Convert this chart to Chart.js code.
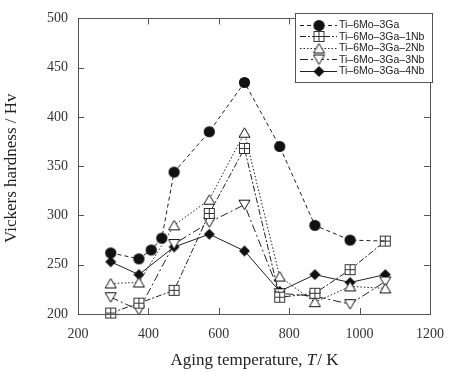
<!DOCTYPE html>
<html>
<head>
<meta charset="utf-8">
<script src="https://cdn.jsdelivr.net/npm/chart.js@4.4.1/dist/chart.umd.min.js"></script>
<style>
html,body{margin:0;padding:0;background:#fff;}
#wrap{width:456px;height:372px;}
</style>
</head>
<body>
<div id="wrap"><canvas id="c" width="456" height="372"></canvas></div>
<script>
// ---- data ----
const seriesNames = ['Ti–6Mo–3Ga','Ti–6Mo–3Ga–1Nb','Ti–6Mo–3Ga–2Nb','Ti–6Mo–3Ga–3Nb','Ti–6Mo–3Ga–4Nb'];
const temps3Ga = [293, 373, 408, 438, 473, 573, 673, 773, 873, 973, 1073];
const hv3Ga    = [262, 256, 265, 277, 344, 385, 435, 370, 290, 275, 274];
const tempsNb  = [293, 373, 473, 573, 673, 773, 873, 973, 1073];
const hv1Nb    = [201, 211, 224, 302, 368, 217, 221, 245, 274];
const hv2Nb    = [231, 232, 290, 316, 384, 238, 212, 228, 226];
const hv3Nb    = [217, 204, 271, 293, 311, 221, 218, 210, 233];
const hv4Nb    = [253, 240, 268, 281, 264, 223, 240, 232, 240];
const xTicks = [200, 400, 600, 800, 1000, 1200];
const yTicks = [200, 250, 300, 350, 400, 450, 500];

function pts(xs, ys){ return xs.map((x,i)=>({x:x, y:ys[i]})); }

// ---- marker images ----
const INK = '#222';
function mk(w,h,fn){ const c=document.createElement('canvas'); c.width=w; c.height=h; const g=c.getContext('2d'); fn(g); return c; }
const mCircle = mk(13,13,g=>{ g.fillStyle='#111'; g.beginPath(); g.arc(6.5,6.5,5.6,0,Math.PI*2); g.fill(); });
const mSquare = mk(13,13,g=>{ g.fillStyle='#fff'; g.strokeStyle='#333'; g.lineWidth=1; g.fillRect(1.5,1.5,10,10); g.strokeRect(1.5,1.5,10,10);
  g.beginPath(); g.moveTo(6.5,1.5); g.lineTo(6.5,11.5); g.moveTo(1.5,6.5); g.lineTo(11.5,6.5); g.stroke(); });
const mTriUp = mk(13,12,g=>{ g.fillStyle='#fff'; g.strokeStyle='#111'; g.lineWidth=1; g.beginPath(); g.moveTo(6.5,1); g.lineTo(12,10.5); g.lineTo(1,10.5); g.closePath(); g.fill(); g.stroke(); });
const mTriDn = mk(13,12,g=>{ g.fillStyle='#fff'; g.strokeStyle='#111'; g.lineWidth=1; g.beginPath(); g.moveTo(6.5,11); g.lineTo(12,1.5); g.lineTo(1,1.5); g.closePath(); g.fill(); g.stroke(); });
const mDiam = mk(13,13,g=>{ g.fillStyle='#111'; g.beginPath(); g.moveTo(6.5,1); g.lineTo(12,6.5); g.lineTo(6.5,12); g.lineTo(1,6.5); g.closePath(); g.fill(); });

const dashes = [[4,3],[6,2,2,2],[1.5,2],[8,3,2,3],[]];
const markers = [mCircle, mSquare, mTriUp, mTriDn, mDiam];

function ds(i, data, radii){
  return { label: seriesNames[i], data: data, borderColor: INK, borderWidth: 1, borderDash: dashes[i],
    pointStyle: markers[i], pointRadius: radii || 6, pointHoverRadius: radii || 6, fill:false, tension:0, clip:false, showLine:true };
}

const PL = 78, PR = 440, PT = 7.5, PB = 314;

const frame = {
  id:'frame',
  afterDatasetsDraw(chart){
    const ctx = chart.ctx, a = chart.chartArea, xs = chart.scales.x, ys = chart.scales.y;
    ctx.save();
    ctx.strokeStyle = '#555'; ctx.lineWidth = 1; ctx.setLineDash([]);
    ctx.strokeRect(Math.round(a.left)+0.5, Math.round(a.top)+0.5, Math.round(a.right-a.left), Math.round(a.bottom-a.top));
    const L=6;
    ctx.beginPath();
    xTicks.slice(1,-1).forEach(v=>{ const x=Math.round(xs.getPixelForValue(v))+0.5;
      ctx.moveTo(x,a.bottom); ctx.lineTo(x,a.bottom-L); ctx.moveTo(x,a.top); ctx.lineTo(x,a.top+L); });
    yTicks.slice(1,-1).forEach(v=>{ const y=Math.round(ys.getPixelForValue(v))+0.5;
      ctx.moveTo(a.left,y); ctx.lineTo(a.left+L,y); ctx.moveTo(a.right,y); ctx.lineTo(a.right-L,y); });
    ctx.stroke();
    ctx.restore();
  },
  afterDraw(chart){
    const ctx = chart.ctx, a = chart.chartArea;
    ctx.save();
    // axis titles
    ctx.fillStyle = '#222'; ctx.textBaseline = 'middle';
    const p1 = 'Aging temperature, ', p2 = 'T', p3 = '/ K';
    const fN = '17px "Liberation Serif", "Times New Roman", serif', fI = 'italic 17px "Liberation Serif", "Times New Roman", serif';
    ctx.font = fN; const w1 = ctx.measureText(p1).width, w3 = ctx.measureText(p3).width;
    ctx.font = fI; const w2 = ctx.measureText(p2).width;
    let x0 = (a.left + a.right)/2 - (w1+w2+w3)/2, yT = 361;
    ctx.textAlign = 'left';
    ctx.font = fN; ctx.fillText(p1, x0, yT);
    ctx.font = fI; ctx.fillText(p2, x0+w1, yT);
    ctx.font = fN; ctx.fillText(p3, x0+w1+w2+1, yT);
    ctx.save(); ctx.translate(12, (a.top+a.bottom)/2+2); ctx.rotate(-Math.PI/2);
    ctx.textAlign = 'center'; ctx.font = fN; ctx.fillText('Vickers hardness / Hv', 0, 0); ctx.restore();
    // legend
    const bx=295.5, by=13.5, bw=137, bh=69;
    ctx.fillStyle='#fff'; ctx.fillRect(bx,by,bw,bh);
    ctx.strokeStyle='#555'; ctx.lineWidth=1; ctx.strokeRect(bx,by,bw,bh);
    ctx.font = '10.5px "Liberation Sans", Arial, sans-serif'; ctx.textAlign='left'; ctx.textBaseline='middle';
    chart.data.datasets.forEach((d,i)=>{
      const y = 25 + i*11.4;
      ctx.strokeStyle = INK; ctx.lineWidth = 1; ctx.setLineDash(dashes[i]);
      ctx.beginPath(); ctx.moveTo(300, Math.round(y)+0.5); ctx.lineTo(337, Math.round(y)+0.5); ctx.stroke();
      ctx.setLineDash([]);
      const m = markers[i]; ctx.drawImage(m, 319 - m.width/2, Math.round(y)+0.5 - m.height/2);
      ctx.fillStyle = '#222'; ctx.fillText(d.label, 339, y+0.5);
    });
    ctx.restore();
  }
};

new Chart(document.getElementById('c'), {
  type: 'scatter',
  data: { datasets: [
    ds(0, pts(temps3Ga, hv3Ga), [6,6,6,6,6,6,6,6,6,6,0]),
    ds(1, pts(tempsNb, hv1Nb)),
    ds(2, pts(tempsNb, hv2Nb)),
    ds(3, pts(tempsNb, hv3Nb)),
    ds(4, pts(tempsNb, hv4Nb))
  ]},
  options: {
    responsive: false, animation: false, devicePixelRatio: 1,
    layout: { padding: { left: 0, right: 456-PR, top: PT, bottom: 0 } },
    plugins: { legend: { display: false }, tooltip: { enabled: false } },
    scales: {
      x: { type: 'linear', min: 200, max: 1200,
        afterBuildTicks(s){ s.ticks = xTicks.map(v=>({value:v})); },
        afterFit(s){ s.height = 372 - PB; },
        grid: { display: false, drawTicks: false }, border: { display: false },
        ticks: { padding: 12, color: '#333', callback: v => String(v), font: { family: '"Liberation Serif", "Times New Roman", serif', size: 14 }, maxRotation: 0, autoSkip: false } },
      y: { type: 'linear', min: 200, max: 500,
        afterBuildTicks(s){ s.ticks = yTicks.map(v=>({value:v})); },
        afterFit(s){ s.width = PL; },
        grid: { display: false, drawTicks: false }, border: { display: false },
        ticks: { padding: 10, color: '#333', callback: v => String(v), font: { family: '"Liberation Serif", "Times New Roman", serif', size: 14 }, autoSkip: false } }
    }
  },
  plugins: [frame]
});
</script>
</body>
</html>
